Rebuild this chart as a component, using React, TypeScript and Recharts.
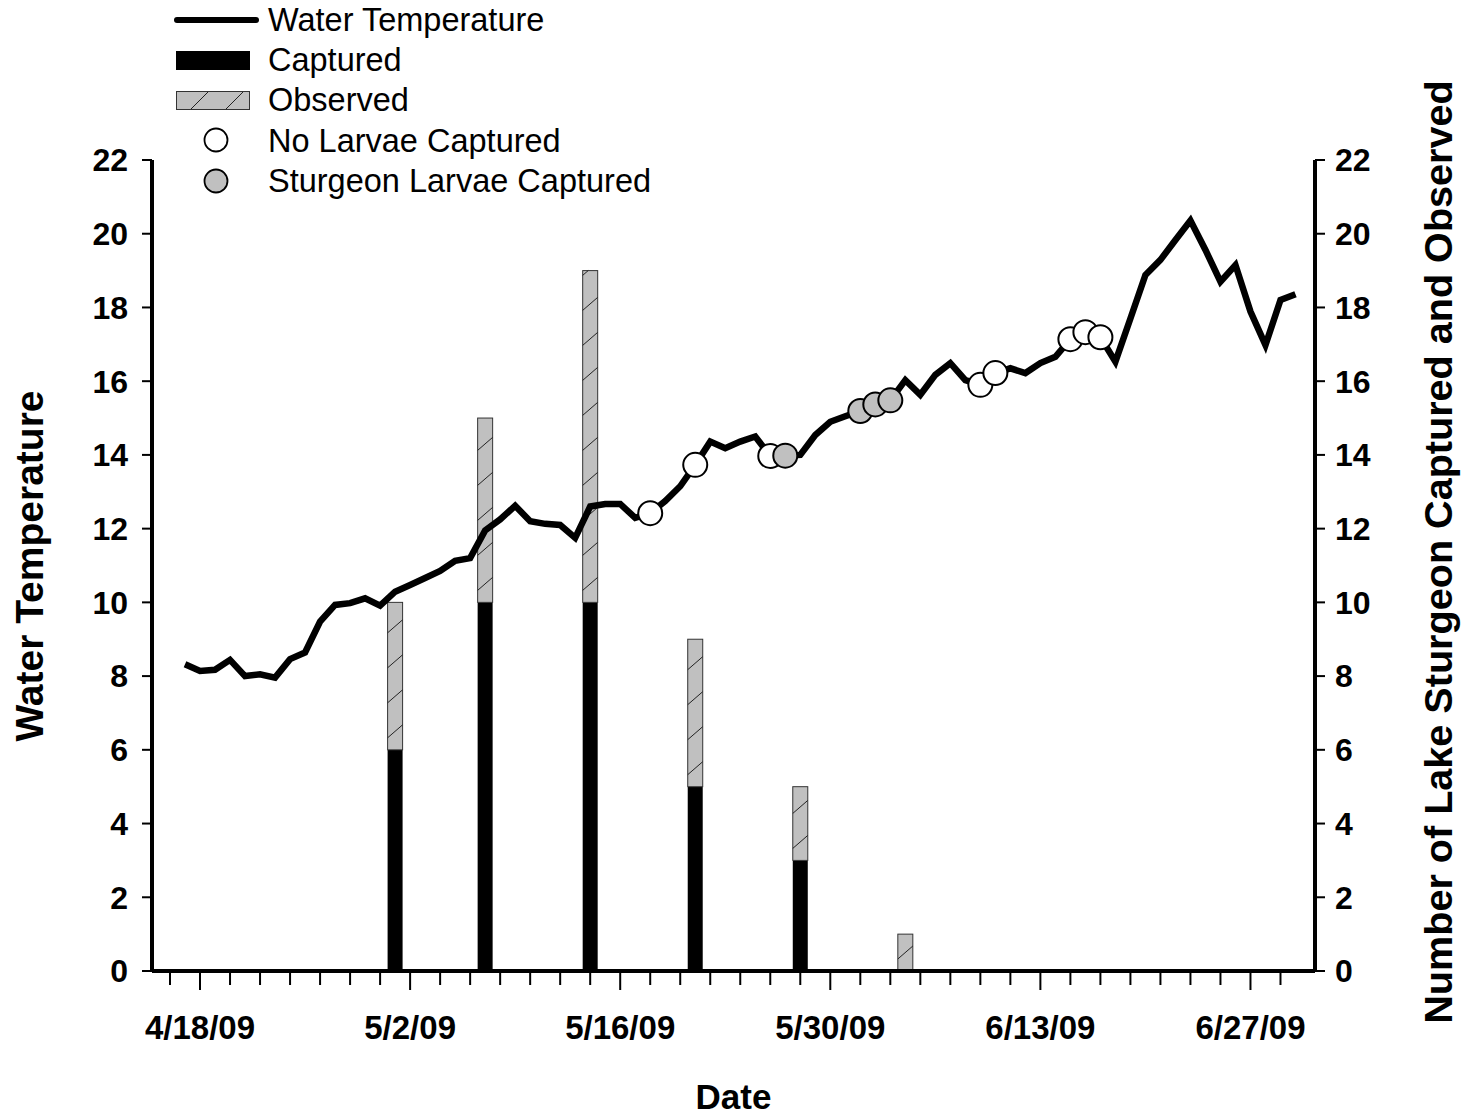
import { ComposedChart, Line, Bar, XAxis, YAxis, Legend } from 'recharts'

// daily water temperature, first value is 4/17/09
const tempStart = '4/17/09'
const tempValues = [
    8.32, 8.14, 8.17, 8.44, 8.0, 8.05, 7.96, 8.46, 8.64, 9.48,
    9.93, 9.98, 10.11, 9.91, 10.29, 10.47, 10.66, 10.85, 11.13, 11.2,
    11.95, 12.25, 12.62, 12.2, 12.13, 12.1, 11.75, 12.6, 12.67, 12.67,
    12.29, 12.42, 12.75, 13.15, 13.73, 14.36, 14.18, 14.36, 14.5, 13.97,
    13.98, 14.0, 14.54, 14.9, 15.05, 15.19, 15.37, 15.48, 16.03, 15.63,
    16.17, 16.49, 16.03, 15.9, 16.22, 16.35, 16.22, 16.49, 16.66, 17.14,
    17.33, 17.19, 16.53, 17.7, 18.88, 19.29, 19.83, 20.36, 19.56, 18.7,
    19.15, 17.89, 16.98, 18.2, 18.36
]

// sampling dates
const noLarvaeDates = ['5/18/09', '5/21/09', '5/26/09', '6/9/09', '6/10/09', '6/15/09', '6/16/09', '6/17/09']
const larvaeDates = ['5/27/09', '6/1/09', '6/2/09', '6/3/09']

// adult lake sturgeon
const barDates = ['5/1/09', '5/7/09', '5/14/09', '5/21/09', '5/28/09', '6/4/09']
const captured = [6, 10, 10, 5, 3, 0]
const observed = [4, 5, 9, 4, 2, 1]

const yTicks = [0, 2, 4, 6, 8, 10, 12, 14, 16, 18, 20, 22]

const ORIGIN = Date.UTC(2009, 3, 18)
const toDay = (s: string) => {
    const [m, d, y] = s.split('/').map(Number)
    return Math.round((Date.UTC(2000 + y, m - 1, d) - ORIGIN) / 86400000)
}
const fmtDay = (day: number) => {
    const dt = new Date(ORIGIN + day * 86400000)
    return `${dt.getUTCMonth() + 1}/${dt.getUTCDate()}/09`
}

const firstDay = toDay(tempStart)
const data = tempValues.map((t, i) => {
    const day = firstDay + i
    const label = fmtDay(day)
    const b = barDates.indexOf(label)
    return {
        day,
        temp: t,
        captured: b >= 0 ? captured[b] : undefined,
        observed: b >= 0 ? observed[b] : undefined,
        sample: noLarvaeDates.includes(label) ? 'no' : larvaeDates.includes(label) ? 'yes' : ''
    }
})

const xTicks: number[] = []
for (let d = -2; d <= 72; d += 2) xTicks.push(d)

const FONT = 'Arial, "Liberation Sans", sans-serif'

const HatchBar = (props: any) => {
    const { x, y, width, height } = props
    if (!height || height <= 0) return <g />
    const bottom = y + height
    const rise = 13
    const lines = []
    for (let k = 0; ; k++) {
        const y0 = bottom - 12 - k * 35
        if (y0 - rise > bottom) continue
        if (y0 < y) break
        let t0 = 0
        let t1 = 1
        if (y0 > bottom) t0 = (y0 - bottom) / rise
        if (y0 - rise < y) t1 = (y0 - y) / rise
        lines.push(
            <line key={k}
                x1={x + width * t0} y1={y0 - rise * t0}
                x2={x + width * t1} y2={y0 - rise * t1}
                stroke="#222" strokeWidth={1} />
        )
    }
    return (
        <g>
            <rect x={x} y={y} width={width} height={height} fill="#c0c0c0" stroke="#333" strokeWidth={1} />
            {lines}
        </g>
    )
}

const SampleDot = (props: any) => {
    const { cx, cy, payload, index } = props
    if (!payload.sample) return <g key={index} />
    return (
        <circle key={index} cx={cx} cy={cy} r={12}
            fill={payload.sample === 'yes' ? '#c0c0c0' : '#fff'}
            stroke="#000" strokeWidth={2} />
    )
}

const DateTick = (props: any) => {
    const { x, y, payload } = props
    const major = payload.value % 14 === 0
    return (
        <g>
            <line x1={x} y1={y + 2} x2={x} y2={y + (major ? 19 : 14)} stroke="#000" strokeWidth={2} />
            {major && (
                <text x={x} y={y + 68} textAnchor="middle" fontFamily={FONT} fontWeight="bold" fontSize={33} fill="#000">
                    {fmtDay(payload.value)}
                </text>
            )}
        </g>
    )
}

const LegendBox = () => {
    const rows = ['Water Temperature', 'Captured', 'Observed', 'No Larvae Captured', 'Sturgeon Larvae Captured']
    return (
        <svg width={700} height={200}>
            <line x1={177} y1={20} x2={256} y2={20} stroke="#000" strokeWidth={6} strokeLinecap="round" />
            <rect x={176} y={51} width={74} height={19} fill="#000" />
            <rect x={176.5} y={91.5} width={73} height={18} fill="#c0c0c0" stroke="#333" strokeWidth={1} />
            <line x1={191} y1={109} x2={208} y2={92} stroke="#222" strokeWidth={1} />
            <line x1={226} y1={109} x2={243} y2={92} stroke="#222" strokeWidth={1} />
            <circle cx={216} cy={140} r={11.5} fill="#fff" stroke="#000" strokeWidth={1.8} />
            <circle cx={216} cy={181} r={11.5} fill="#c0c0c0" stroke="#000" strokeWidth={1.8} />
            {rows.map((r, i) => (
                <text key={r} x={268} y={31 + i * 40.2} fontFamily={FONT} fontSize={32.5} fill="#000">{r}</text>
            ))}
        </svg>
    )
}

const App = () => {
    const tickStyle = { fontFamily: FONT, fontWeight: 'bold', fontSize: 32, fill: '#000' }
    return (
        <div style={{ position: 'absolute', left: 0, top: 0, background: '#fff' }}>
            <ComposedChart width={1465} height={1118} data={data}
                margin={{ top: 160, right: 0, bottom: 0, left: 0 }}>
                <XAxis dataKey="day" type="number" domain={[-3.2, 74.3]} ticks={xTicks}
                    allowDataOverflow interval={0} height={147}
                    axisLine={{ stroke: '#000', strokeWidth: 4 }} tickLine={false}
                    tickSize={0} tickMargin={0} tick={<DateTick />}
                    label={{
                        content: (p: any) => (
                            <text x={p.viewBox.x + p.viewBox.width / 2} y={1109} textAnchor="middle"
                                fontFamily={FONT} fontWeight="bold" fontSize={35} fill="#000">Date</text>
                        )
                    }} />
                <YAxis yAxisId="left" domain={[0, 22]} ticks={yTicks} width={152} interval={0}
                    axisLine={{ stroke: '#000', strokeWidth: 4 }}
                    tickLine={{ stroke: '#000', strokeWidth: 2 }} tickSize={10} tickMargin={14}
                    tick={tickStyle}
                    label={{
                        content: () => (
                            <text x={43} y={566} transform="rotate(-90 43 566)" textAnchor="middle"
                                fontFamily={FONT} fontWeight="bold" fontSize={39} fill="#000">Water Temperature</text>
                        )
                    }} />
                <YAxis yAxisId="right" orientation="right" domain={[0, 22]} ticks={yTicks} width={150} interval={0}
                    axisLine={{ stroke: '#000', strokeWidth: 4 }}
                    tickLine={{ stroke: '#000', strokeWidth: 2 }} tickSize={10} tickMargin={10}
                    tick={tickStyle}
                    label={{
                        content: () => (
                            <text x={1452} y={552} transform="rotate(-90 1452 552)" textAnchor="middle"
                                fontFamily={FONT} fontWeight="bold" fontSize={39.6} fill="#000">Number of Lake Sturgeon Captured and Observed</text>
                        )
                    }} />
                <Legend layout="vertical" align="center" verticalAlign="middle"
                    wrapperStyle={{ top: 0, left: 0, width: 700, height: 200 }}
                    content={() => <LegendBox />} />
                <Bar yAxisId="right" dataKey="captured" stackId="n" fill="#000" barSize={15}
                    isAnimationActive={false} />
                <Bar yAxisId="right" dataKey="observed" stackId="n" barSize={15}
                    shape={<HatchBar />} isAnimationActive={false} />
                <Line yAxisId="left" dataKey="temp" type="linear" stroke="#000" strokeWidth={6.5}
                    strokeLinejoin="miter" dot={<SampleDot />} activeDot={false}
                    isAnimationActive={false} />
            </ComposedChart>
        </div>
    )
}

export default App
